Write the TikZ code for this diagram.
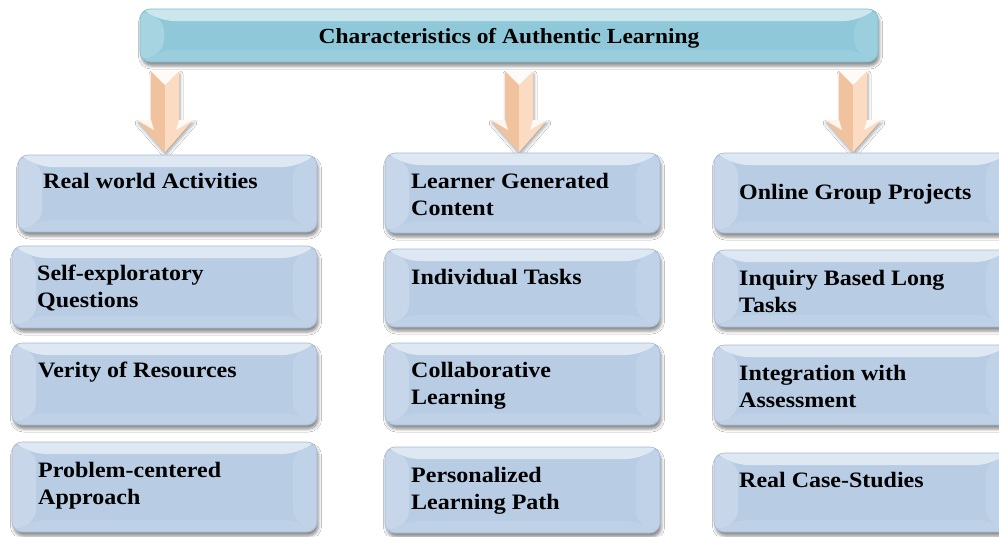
\documentclass[tikz,border=0pt]{standalone}
\usepackage{fontspec}
\setmainfont{Liberation Serif}[FakeStretch=1.09]
\usetikzlibrary{shadows.blur}
\definecolor{boxmain}{RGB}{184,204,228}
\definecolor{boxedge}{RGB}{165,186,213}
\definecolor{ttlmain}{RGB}{143,201,217}
\definecolor{ttledge}{RGB}{125,188,207}
\definecolor{peach}{RGB}{247,207,174}
\definecolor{peachdk}{RGB}{240,194,158}
\definecolor{peachlt}{RGB}{251,219,194}
\newcommand\twol[2]{\vtop{\hbox{#1}\hbox{#2}}}
\newcommand\blockarrow[1]{%
  \path[fill=peach, blur shadow={shadow xshift=1pt, shadow yshift=-3pt, shadow blur radius=3pt, shadow opacity=35}]
    ({#1-14},71) -- ({#1+14},71) -- ({#1+14},120) -- ({#1+28},120) -- (#1,152) -- ({#1-28},120) -- ({#1-14},120) -- cycle;
  \fill[peachdk] ({#1-14},71) -- (#1,85) -- (#1,152) -- ({#1-28},120) -- ({#1-14},120) -- cycle;
  \fill[peachlt] ({#1+14},71) -- (#1,85) -- (#1,152) -- ({#1+28},120) -- ({#1+14},120) -- cycle;
  \fill[white, opacity=.9] ({#1-14},71) -- ({#1+14},71) -- (#1,85) -- cycle;
  \fill[white, opacity=.85] ({#1-28},120) -- ({#1-14},120) -- ({#1-11},130) -- cycle;
  \fill[white, opacity=.85] ({#1+28},120) -- ({#1+14},120) -- ({#1+11},130) -- cycle;
}
\tikzset{
  bevelbox/.style={rectangle, rounded corners=10pt, inner sep=0pt, outer sep=0pt,
    draw=boxedge, line width=0.6pt, fill=boxmain,
    blur shadow={shadow xshift=1.5pt, shadow yshift=-4pt, shadow blur radius=3pt, shadow opacity=45},
    path picture={
      \coordinate (nw) at (path picture bounding box.north west);
      \coordinate (ne) at (path picture bounding box.north east);
      \coordinate (sw) at (path picture bounding box.south west);
      \coordinate (se) at (path picture bounding box.south east);
      \fill[white, opacity=.55] (nw) -- (ne) -- ([shift={(-24pt,-12pt)}]ne) -- ([shift={(24pt,-12pt)}]nw) -- cycle;
      \fill[white, opacity=.22] (nw) -- ([shift={(24pt,-12pt)}]nw) -- ([shift={(24pt,12pt)}]sw) -- (sw) -- cycle;
      \fill[white, opacity=.12] (ne) -- ([shift={(-24pt,-12pt)}]ne) -- ([shift={(-24pt,12pt)}]se) -- (se) -- cycle;
      \fill[white, opacity=.10] (sw) -- (se) -- ([shift={(-24pt,12pt)}]se) -- ([shift={(24pt,12pt)}]sw) -- cycle;
    }},
  ttlbox/.style={bevelbox, fill=ttlmain, draw=ttledge},
  lbl/.style={font=\fontsize{22}{27}\selectfont\bfseries, inner sep=0pt, anchor=base west, text=black},
  ttltext/.style={font=\fontsize{21.5}{25}\selectfont\bfseries, inner sep=0pt, anchor=base, text=black},
}
\begin{document}
\begin{tikzpicture}[x=1pt, y=-1pt]
\useasboundingbox (0,0) rectangle (999,536);
\clip (0,0) rectangle (999,536);
\fill[white] (0,0) rectangle (999,536);

% title
\node[ttlbox, minimum width=738pt, minimum height=53pt] (title) at (509,35.5) {};
\node[ttltext] (ttltxt) at (509,43) {Characteristics of Authentic Learning};

% block arrows
\blockarrow{165}
\blockarrow{519}
\blockarrow{853}

% column 1
\node[bevelbox, minimum width=299pt, minimum height=77pt] (a1) at (167.5,193.5) {};
\node[bevelbox, minimum width=305pt, minimum height=82pt] (a2) at (164.5,287) {};
\node[bevelbox, minimum width=305pt, minimum height=82pt] (a3) at (164.5,384) {};
\node[bevelbox, minimum width=305pt, minimum height=90pt] (a4) at (164.5,487) {};
% column 2
\node[bevelbox, minimum width=275pt, minimum height=80pt] (b1) at (522.5,193) {};
\node[bevelbox, minimum width=275pt, minimum height=78pt] (b2) at (522.5,288) {};
\node[bevelbox, minimum width=275pt, minimum height=82pt] (b3) at (522.5,384) {};
\node[bevelbox, minimum width=275pt, minimum height=86pt] (b4) at (522.5,490) {};
% column 3
\node[bevelbox, minimum width=296pt, minimum height=80pt] (c1) at (862,193) {};
\node[bevelbox, minimum width=296pt, minimum height=77pt] (c2) at (862,288.5) {};
\node[bevelbox, minimum width=296pt, minimum height=80pt] (c3) at (862,385) {};
\node[bevelbox, minimum width=296pt, minimum height=79pt] (c4) at (862,492.5) {};

% labels
\node[lbl] (ta1) at (43,188) {Real world Activities};
\node[lbl] (ta2) at (37,280) {\twol{Self-exploratory}{Questions}};
\node[lbl] (ta3) at (38,377) {Verity of Resources};
\node[lbl] (ta4) at (38,477) {\twol{Problem-centered}{Approach}};
\node[lbl] (tb1) at (411,188) {\twol{Learner Generated}{Content}};
\node[lbl] (tb2) at (411,284) {Individual Tasks};
\node[lbl] (tb3) at (411,377) {\twol{Collaborative}{Learning}};
\node[lbl] (tb4) at (411,482) {\twol{Personalized}{Learning Path}};
\node[lbl] (tc1) at (739,199) {Online Group Projects};
\node[lbl] (tc2) at (739,285) {\twol{Inquiry Based Long}{Tasks}};
\node[lbl] (tc3) at (739,380) {\twol{Integration with}{Assessment}};
\node[lbl] (tc4) at (739,487) {Real Case-Studies};
\end{tikzpicture}
\end{document}
